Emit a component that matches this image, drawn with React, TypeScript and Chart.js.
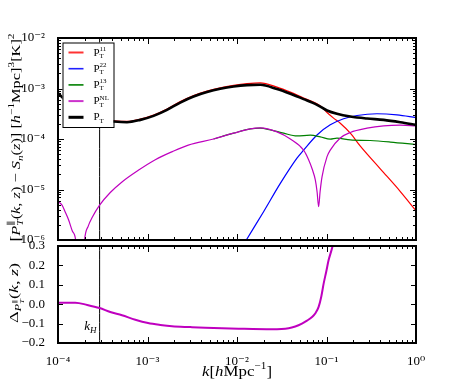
import { useEffect, useRef } from 'react';
import { Chart, registerables } from 'chart.js';

Chart.register(...registerables);

const FONT = '"Liberation Serif", "DejaVu Serif", serif';

// ---------- data: log10 k [h Mpc^-1] and log10 values ----------
const logK_PT = [-4.0, -3.955, -3.863, -3.751, -3.639, -3.527, -3.379, -3.229, -3.08, -2.932, -2.782, -2.634, -2.485, -2.335, -2.187, -2.038, -1.888, -1.74, -1.553, -1.404, -1.256, -1.106, -0.994, -0.883, -0.734, -0.547, -0.362, -0.175, 0.0];
const logP_PT = [-3.09, -3.17, -3.33, -3.47, -3.57, -3.63, -3.655, -3.667, -3.621, -3.542, -3.423, -3.278, -3.159, -3.071, -3.006, -2.96, -2.933, -2.927, -3.012, -3.105, -3.21, -3.323, -3.436, -3.502, -3.556, -3.595, -3.621, -3.667, -3.72];

const logK_P11 = [-4.0, -3.955, -3.863, -3.751, -3.639, -3.527, -3.379, -3.229, -3.08, -2.932, -2.782, -2.634, -2.485, -2.335, -2.187, -2.038, -1.888, -1.74, -1.553, -1.404, -1.256, -1.106, -1.05, -0.994, -0.921, -0.846, -0.734, -0.622, -0.399, -0.175, 0.0];
const logP_P11 = [-3.085, -3.16, -3.315, -3.455, -3.555, -3.612, -3.64, -3.652, -3.605, -3.525, -3.405, -3.26, -3.14, -3.052, -2.985, -2.938, -2.905, -2.89, -2.972, -3.071, -3.19, -3.3, -3.37, -3.476, -3.587, -3.687, -3.885, -4.14, -4.59, -5.04, -5.42];

const logK_P22 = [-1.963, -1.896, -1.703, -1.516, -1.33, -1.256, -1.106, -0.958, -0.809, -0.659, -0.436, -0.212, 0.0];
const logP_P22 = [-6.2, -6.0, -5.44, -4.88, -4.38, -4.22, -3.92, -3.72, -3.6, -3.535, -3.5, -3.522, -3.575];

const logK_P13 = [-2.262, -2.038, -1.851, -1.74, -1.628, -1.479, -1.33, -1.181, -1.069, -0.958, -0.883, -0.734, -0.511, -0.287, 0.0];
const logP_P13 = [-4.0, -3.885, -3.8, -3.785, -3.82, -3.885, -3.94, -3.925, -3.958, -4.004, -3.984, -4.018, -4.03, -4.06, -4.11];

const logK_PNL = [-4.0, -3.955, -3.918, -3.882, -3.84, -3.799, -3.756, -3.703, -3.661, -3.617, -3.535, -3.416, -3.285, -3.103, -2.913, -2.723, -2.544, -2.262, -2.038, -1.851, -1.74, -1.553, -1.404, -1.256, -1.2, -1.159, -1.125, -1.105, -1.088, -1.072, -1.05, -0.994, -0.958, -0.846, -0.734, -0.547, -0.362, -0.175, 0.0];
const logP_PNL = [-5.24, -5.31, -5.45, -5.6, -5.82, -6.05, -7.5, -6.0, -5.72, -5.55, -5.31, -5.06, -4.85, -4.62, -4.41, -4.25, -4.12, -4.0, -3.885, -3.8, -3.78, -3.86, -4.0, -4.22, -4.41, -4.6, -4.81, -5.05, -5.34, -5.05, -4.75, -4.35, -4.22, -3.98, -3.87, -3.786, -3.74, -3.726, -3.74];

const logK_Delta = [-4.0, -3.807, -3.673, -3.535, -3.416, -3.285, -3.136, -2.994, -2.857, -2.726, -2.522, -2.354, -1.982, -1.609, -1.423, -1.349, -1.274, -1.218, -1.162, -1.122, -1.088, -1.058, -1.032, -1.002, -0.977, -0.932, -0.891];
const deltaValues = [0.008, 0.008, -0.004, -0.02, -0.04, -0.057, -0.08, -0.097, -0.107, -0.114, -0.118, -0.121, -0.126, -0.129, -0.124, -0.115, -0.1, -0.085, -0.066, -0.045, -0.014, 0.04, 0.106, 0.17, 0.226, 0.3, 0.4];

const logK_H = -3.535;

// tick labels
const xTickExponents = [-4, -3, -2, -1, 0];
const yTickExponentsTop = [-6, -5, -4, -3, -2];
const yTicksBottom = [-0.2, -0.1, 0.0, 0.1, 0.2, 0.3];

// ---------- helpers ----------
const SUP: Record<string, string> = { '-': '⁻', '0': '⁰', '1': '¹', '2': '²', '3': '³', '4': '⁴', '5': '⁵', '6': '⁶', '7': '⁷', '8': '⁸', '9': '⁹' };
const pow10Label = (v: number) => '10' + String(Math.round(Math.log10(v))).split('').map((c) => SUP[c] || c).join('');
const pts = (lk: number[], lv: number[]) => lk.map((k, i) => ({ x: Math.pow(10, k), y: Math.pow(10, lv[i]) }));
const ptsLin = (lk: number[], v: number[]) => lk.map((k, i) => ({ x: Math.pow(10, k), y: v[i] }));

type Seg = { t: string; s: number; dy?: number; it?: boolean; st?: boolean };

function richWidth(ctx: CanvasRenderingContext2D, segs: Seg[]) {
  let w = 0, pend = 0;
  for (const g of segs) {
    ctx.font = `${g.it ? 'italic ' : ''}${g.s}px ${FONT}`;
    const m = ctx.measureText(g.t).width;
    if (g.st) { pend = Math.max(pend, m); continue; }
    w += Math.max(pend, m); pend = 0;
  }
  return w + pend;
}
function drawRich(ctx: CanvasRenderingContext2D, segs: Seg[], x: number, y: number) {
  let cx = x, pend = 0;
  ctx.textAlign = 'left';
  ctx.textBaseline = 'alphabetic';
  for (const g of segs) {
    ctx.font = `${g.it ? 'italic ' : ''}${g.s}px ${FONT}`;
    ctx.fillText(g.t, cx, y + (g.dy || 0));
    const m = ctx.measureText(g.t).width;
    if (g.st) { pend = Math.max(pend, m); continue; }
    cx += Math.max(pend, m); pend = 0;
  }
}
// draws centred rich text; if target > 0 the run is stretched along its direction only
function drawRichCentered(ctx: CanvasRenderingContext2D, segs: Seg[], cx: number, cy: number, rotate: boolean, baseOff: number, target = 0) {
  ctx.save();
  ctx.translate(cx, cy);
  if (rotate) ctx.rotate(-Math.PI / 2);
  const w = richWidth(ctx, segs);
  if (target > 0) { const f = target / w; ctx.scale(f, 1); }
  drawRich(ctx, segs, -w / 2, baseOff);
  ctx.restore();
}

function line(ctx: CanvasRenderingContext2D, x1: number, y1: number, x2: number, y2: number) {
  ctx.beginPath(); ctx.moveTo(x1, y1); ctx.lineTo(x2, y2); ctx.stroke();
}

function logTicksX(ctx: CanvasRenderingContext2D, sc: any, a: any) {
  const e0 = Math.round(Math.log10(sc.min)), e1 = Math.round(Math.log10(sc.max));
  for (let e = e0; e <= e1; e++) for (let m = 1; m <= 9; m++) {
    const v = m * Math.pow(10, e);
    if (v > sc.max * 1.0001) break;
    const p = Math.round(sc.getPixelForValue(v)) + 0.5;
    const len = m === 1 ? 6 : 3;
    line(ctx, p, a.bottom, p, a.bottom - len);
    line(ctx, p, a.top, p, a.top + len);
  }
}
function logTicksY(ctx: CanvasRenderingContext2D, sc: any, a: any) {
  const e0 = Math.round(Math.log10(sc.min)), e1 = Math.round(Math.log10(sc.max));
  for (let e = e0; e <= e1; e++) for (let m = 1; m <= 9; m++) {
    const v = m * Math.pow(10, e);
    if (v > sc.max * 1.0001) break;
    const p = Math.round(sc.getPixelForValue(v)) + 0.5;
    const len = m === 1 ? 6 : 3;
    line(ctx, a.left, p, a.left + len, p);
    line(ctx, a.right, p, a.right - len, p);
  }
}

const legendItems = [
  { color: '#ff3333', w: 2, sup: '11' },
  { color: '#2020ff', w: 1.6, sup: '22' },
  { color: '#008000', w: 1.6, sup: '13' },
  { color: '#cc33cc', w: 2, sup: 'NL' },
  { color: '#000000', w: 3, sup: '' },
];

const topLabel: Seg[] = [
  { t: '[', s: 14 }, { t: 'P', s: 13, it: true }, { t: '∥', s: 9, dy: -6, st: true }, { t: 'T', s: 9, it: true, dy: 3 },
  { t: '(', s: 13 }, { t: 'k', s: 13, it: true }, { t: ', ', s: 13 }, { t: 'z', s: 13, it: true }, { t: ')', s: 13 },
  { t: ' − ', s: 13 }, { t: 'S', s: 13, it: true }, { t: 'n', s: 9, it: true, dy: 3 }, { t: '(', s: 13 }, { t: 'z', s: 13, it: true },
  { t: ')]', s: 13 }, { t: ' [', s: 13 }, { t: 'h', s: 13, it: true }, { t: '−1', s: 9, dy: -6 }, { t: 'Mpc]', s: 13 },
  { t: '3', s: 9, dy: -6 }, { t: '[K]', s: 13 }, { t: '2', s: 9, dy: -6 },
];
const bottomLabel: Seg[] = [
  { t: 'Δ', s: 13 }, { t: 'P', s: 9, it: true, dy: 3 }, { t: '∥', s: 6, dy: -1, st: true }, { t: 'T', s: 6, it: true, dy: 6 },
  { t: '(', s: 13 }, { t: 'k', s: 13, it: true }, { t: ', ', s: 13 }, { t: 'z', s: 13, it: true }, { t: ')', s: 13 },
];
const xLabel: Seg[] = [
  { t: 'k', s: 15, it: true }, { t: '[', s: 15 }, { t: 'h', s: 15, it: true }, { t: 'Mpc', s: 15 }, { t: '−1', s: 10, dy: -7 }, { t: ']', s: 15 },
];

const topDecor = {
  id: 'topDecor',
  afterDatasetsDraw(chart: any) {
    const { ctx, chartArea: a, scales } = chart;
    ctx.save();
    ctx.strokeStyle = '#000';
    ctx.fillStyle = '#000';
    ctx.lineWidth = 1;
    logTicksX(ctx, scales.x, a);
    logTicksY(ctx, scales.y, a);
    ctx.lineWidth = 2;
    ctx.strokeRect(a.left, a.top, a.right - a.left, a.bottom - a.top);
    // legend
    const lx = a.left + 4.5, ly = a.top + 4.5, lw = 51, lh = 84.5;
    ctx.fillStyle = '#fff';
    ctx.fillRect(lx, ly, lw, lh);
    ctx.lineWidth = 1;
    ctx.strokeStyle = '#000';
    ctx.strokeRect(lx + 0.5, ly + 0.5, lw, lh);
    legendItems.forEach((it, i) => {
      const cy = ly + 10 + i * 16.2;
      ctx.strokeStyle = it.color;
      ctx.lineWidth = it.w;
      line(ctx, lx + 6, cy, lx + 21, cy);
      ctx.fillStyle = '#000';
      const segs: Seg[] = [{ t: 'P', s: 11 }];
      if (it.sup) segs.push({ t: it.sup, s: 7, dy: -4.5, st: true });
      segs.push({ t: 'T', s: 7, dy: 2.5 });
      drawRich(ctx, segs, lx + 31, cy + 3);
    });
    ctx.fillStyle = '#000';
    drawRichCentered(ctx, topLabel, 16, 137.5, true, 4, 208);
    ctx.restore();
  },
};

const bottomDecor = {
  id: 'bottomDecor',
  afterDatasetsDraw(chart: any) {
    const { ctx, chartArea: a, scales } = chart;
    ctx.save();
    ctx.strokeStyle = '#000';
    ctx.fillStyle = '#000';
    ctx.lineWidth = 1;
    logTicksX(ctx, scales.x, a);
    yTicksBottom.forEach((v) => {
      const p = Math.round(scales.y.getPixelForValue(v)) + 0.5;
      line(ctx, a.left, p, a.left + 5, p);
      line(ctx, a.right, p, a.right - 5, p);
    });
    ctx.lineWidth = 2;
    ctx.strokeRect(a.left, a.top, a.right - a.left, a.bottom - a.top);
    // k_H label
    const kx = scales.x.getPixelForValue(Math.pow(10, logK_H));
    const kSegs: Seg[] = [{ t: 'k', s: 13, it: true }, { t: 'H', s: 9, it: true, dy: 3 }];
    const kw = richWidth(ctx, kSegs);
    drawRich(ctx, kSegs, kx - 3 - kw, a.bottom - 13);
    drawRichCentered(ctx, bottomLabel, 14, 71, true, 4, 60);
    drawRichCentered(ctx, xLabel, 237, 154, false, 0, 70);
    ctx.restore();
  },
};

export default function App() {
  const topRef = useRef<HTMLCanvasElement>(null);
  const botRef = useRef<HTMLCanvasElement>(null);

  useEffect(() => {
    const kH = Math.pow(10, logK_H);
    const common = { borderJoinStyle: 'round' as const, pointRadius: 0, cubicInterpolationMode: 'monotone' as const, fill: false };
    const top = new Chart(topRef.current!, {
      type: 'line',
      data: {
        datasets: [
          { ...common, label: 'P_T', data: pts(logK_PT, logP_PT), borderColor: '#000000', borderWidth: 2.6, order: 0 },
          { ...common, label: 'P_T^NL', data: pts(logK_PNL, logP_PNL), borderColor: '#bf00bf', borderWidth: 1.2, order: 1 },
          { ...common, label: 'P_T^13', data: pts(logK_P13, logP_P13), borderColor: '#008000', borderWidth: 1.2, order: 2 },
          { ...common, label: 'P_T^22', data: pts(logK_P22, logP_P22), borderColor: '#0000ff', borderWidth: 1.2, order: 3 },
          { ...common, label: 'P_T^11', data: pts(logK_P11, logP_P11), borderColor: '#ff0000', borderWidth: 1.2, order: 4 },
          { ...common, label: 'k_H', data: [{ x: kH, y: 1e-8 }, { x: kH, y: 1 }], borderColor: '#000', borderWidth: 1, order: 5 },
        ],
      },
      options: {
        animation: false,
        responsive: true,
        maintainAspectRatio: false,
        devicePixelRatio: 1,
        events: [],
        layout: { padding: { top: 38, right: 47, left: 0, bottom: 0 } },
        plugins: { legend: { display: false }, tooltip: { enabled: false } },
        scales: {
          x: {
            type: 'logarithmic', min: 1e-4, max: 1,
            grid: { display: false }, border: { display: false },
            ticks: { display: false },
            afterFit: (s: any) => { s.height = 22; },
          },
          y: {
            type: 'logarithmic', min: 1e-6, max: 1e-2,
            grid: { display: false }, border: { display: false },
            afterBuildTicks: (s: any) => { s.ticks = yTickExponentsTop.map((e) => ({ value: Math.pow(10, e) })); },
            ticks: { autoSkip: false, color: '#000', padding: 5, font: { family: FONT, size: 13 }, callback: (v: any) => pow10Label(Number(v)) },
            afterFit: (s: any) => { s.width = 58; },
          },
        },
      },
      plugins: [topDecor],
    } as any);

    const bot = new Chart(botRef.current!, {
      type: 'line',
      data: {
        datasets: [
          { ...common, label: 'Delta', data: ptsLin(logK_Delta, deltaValues), borderColor: '#bf00bf', borderWidth: 2, order: 0 },
          { ...common, label: 'k_H', data: [{ x: kH, y: -1 }, { x: kH, y: 1 }], borderColor: '#000', borderWidth: 1, order: 1 },
        ],
      },
      options: {
        animation: false,
        responsive: true,
        maintainAspectRatio: false,
        devicePixelRatio: 1,
        events: [],
        layout: { padding: { top: 24, right: 47, left: 0, bottom: 0 } },
        plugins: { legend: { display: false }, tooltip: { enabled: false } },
        scales: {
          x: {
            type: 'logarithmic', min: 1e-4, max: 1,
            grid: { display: false }, border: { display: false },
            afterBuildTicks: (s: any) => { s.ticks = xTickExponents.map((e) => ({ value: Math.pow(10, e) })); },
            ticks: { autoSkip: false, maxRotation: 0, color: '#000', padding: 3, font: { family: FONT, size: 13 }, callback: (v: any) => pow10Label(Number(v)) },
            afterFit: (s: any) => { s.height = 39; },
          },
          y: {
            type: 'linear', min: -0.2, max: 0.3,
            grid: { display: false }, border: { display: false },
            afterBuildTicks: (s: any) => { s.ticks = yTicksBottom.map((v) => ({ value: v })); },
            ticks: {
              autoSkip: false, color: '#000', padding: 5, font: { family: FONT, size: 13 },
              callback: (v: any) => { const n = Math.round(Number(v) * 10) / 10; return (n === 0 ? 0 : n).toFixed(1).replace('-', '−'); },
            },
            afterFit: (s: any) => { s.width = 58; },
          },
        },
      },
      plugins: [bottomDecor],
    } as any);

    return () => { top.destroy(); bot.destroy(); };
  }, []);

  return (
    <div style={{ position: 'fixed', left: 0, top: 0, width: 463, height: 382, background: '#fff' }}>
      <div style={{ position: 'absolute', left: 0, top: 0, width: 463, height: 262 }}>
        <canvas ref={topRef} />
      </div>
      <div style={{ position: 'absolute', left: 0, top: 222, width: 463, height: 160 }}>
        <canvas ref={botRef} />
      </div>
    </div>
  );
}
